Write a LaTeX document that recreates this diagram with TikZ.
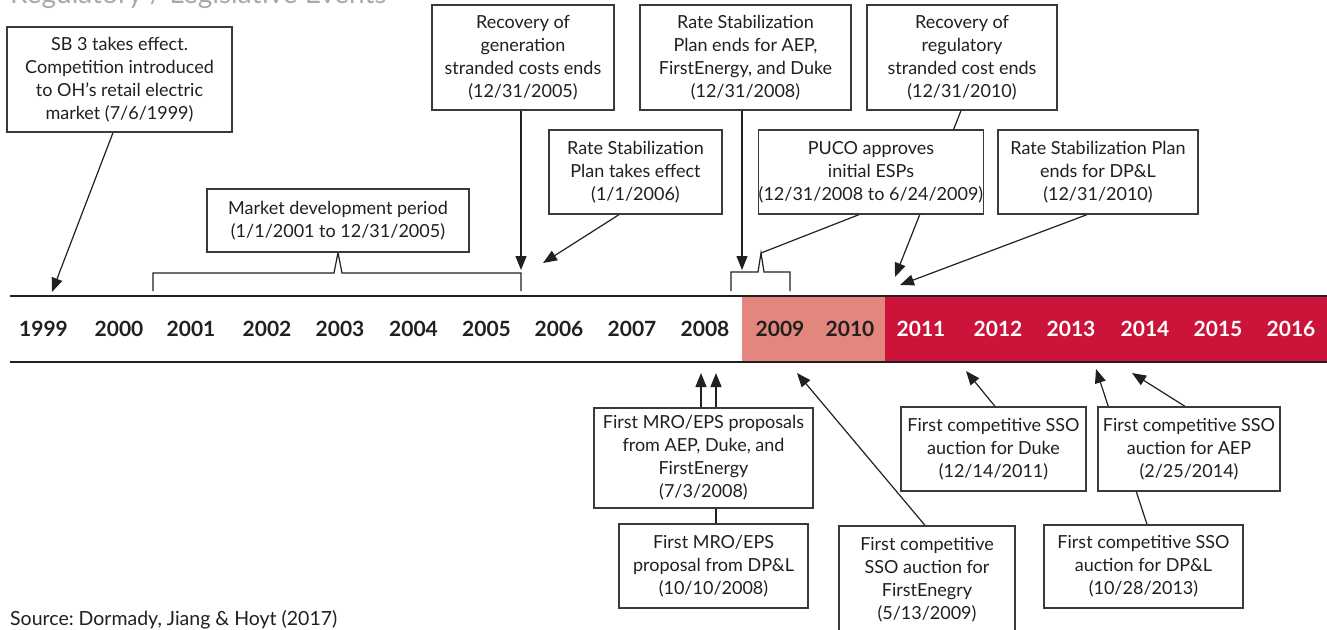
\documentclass[tikz,border=0pt]{standalone}
\usepackage{fontspec}
\setmainfont{Lato}
\usetikzlibrary{arrows.meta}
\pgfdeclarelayer{bg}
\pgfsetlayers{bg,main}
\definecolor{lred}{HTML}{E3877E}
\definecolor{dred}{HTML}{CC1339}
\definecolor{ink}{HTML}{231F20}
\definecolor{boxline}{HTML}{3A3A3A}
\definecolor{titlegray}{HTML}{A7A9AC}
\frenchspacing
\begin{document}
\begin{tikzpicture}[x=1pt,y=-1pt,
  evbox/.style={draw=boxline, line width=1.3pt, fill=white, align=center, inner sep=0pt,
    font=\fontsize{18}{23}\selectfont, text=ink},
  arr/.style={draw=ink, line width=1.2pt, -{Triangle[length=14pt,width=11pt]}},
  lnk/.style={draw=ink, line width=1.2pt},
  yr/.style={font=\bfseries\fontsize{21}{21}\selectfont, anchor=base},
  tl/.style={draw=ink, line width=2.5pt},
]
\useasboundingbox (0,0) rectangle (1327,629);

% title and source
\node[anchor=base west, inner sep=0pt, font=\fontsize{28}{28}\selectfont, text=titlegray] (title) at (10,4) {Regulatory / Legislative Events};
\node[anchor=base west, inner sep=0pt, font=\fontsize{19.5}{19.5}\selectfont, text=ink] (src) at (10,625) {Source: Dormady, Jiang \& Hoyt (2017)};

% timeline band
\fill[lred] (742,297) rectangle (885,361);
\fill[dred] (885,297) rectangle (1327,361);
\draw[tl] (10,296) -- (1327,296);
\draw[tl] (10,362) -- (1327,362);

% years
\node[yr, text=ink] (y1999) at (43.5,336) {1999};
\node[yr, text=ink] (y2000) at (119,336) {2000};
\node[yr, text=ink] (y2001) at (191,336) {2001};
\node[yr, text=ink] (y2002) at (267,336) {2002};
\node[yr, text=ink] (y2003) at (340,336) {2003};
\node[yr, text=ink] (y2004) at (413.5,336) {2004};
\node[yr, text=ink] (y2005) at (486.5,336) {2005};
\node[yr, text=ink] (y2006) at (559,336) {2006};
\node[yr, text=ink] (y2007) at (632,336) {2007};
\node[yr, text=ink] (y2008) at (705,336) {2008};
\node[yr, text=ink] (y2009) at (780,336) {2009};
\node[yr, text=ink] (y2010) at (850,336) {2010};
\node[yr, text=white] (y2011) at (921,336) {2011};
\node[yr, text=white] (y2012) at (998,336) {2012};
\node[yr, text=white] (y2013) at (1071,336) {2013};
\node[yr, text=white] (y2014) at (1145,336) {2014};
\node[yr, text=white] (y2015) at (1218,336) {2015};
\node[yr, text=white] (y2016) at (1291,336) {2016};

% upper boxes
\node[evbox, minimum width=225pt, minimum height=105pt] (sb3) at (119.5,79.5)
  {SB 3 takes effect.\\Competition introduced\\to OH’s retail electric\\market (7/6/1999)};
\node[evbox, minimum width=262pt, minimum height=63pt] (market) at (338,220.5)
  {Market development period\\(1/1/2001 to 12/31/2005)};
\node[evbox, minimum width=182pt, minimum height=105pt] (recgen) at (523,57.5)
  {Recovery of\\generation\\stranded costs ends\\(12/31/2005)};
\node[evbox, minimum width=173pt, minimum height=84pt] (rsp) at (635.5,172)
  {Rate Stabilization\\Plan takes effect\\(1/1/2006)};
\node[evbox, minimum width=211pt, minimum height=105pt] (rspend) at (745.5,57.5)
  {Rate Stabilization\\Plan ends for AEP,\\FirstEnergy, and Duke\\(12/31/2008)};
\node[evbox, minimum width=220pt, minimum height=84pt] (puco) at (871,172)
  {PUCO approves\\initial ESPs\\(12/31/2008 to 6/24/2009)};
\node[evbox, minimum width=190pt, minimum height=105pt] (recreg) at (962,57.5)
  {Recovery of\\regulatory\\stranded cost ends\\(12/31/2010)};
\node[evbox, minimum width=200pt, minimum height=84pt] (rspdpl) at (1098,172)
  {Rate Stabilization Plan\\ends for DP\&L\\(12/31/2010)};

% lower boxes
\node[evbox, minimum width=219pt, minimum height=100pt] (mroa) at (703.5,458)
  {First MRO/EPS proposals\\from AEP, Duke, and\\FirstEnergy\\(7/3/2008)};
\node[evbox, minimum width=189pt, minimum height=84pt] (mrob) at (713.5,566)
  {First MRO/EPS\\proposal from DP\&L\\(10/10/2008)};
\node[evbox, minimum width=176pt, minimum height=108pt] (ssofe) at (927,580)
  {First competitive\\SSO auction for\\FirstEnegry\\(5/13/2009)};
\node[evbox, minimum width=185pt, minimum height=84pt] (ssoduke) at (993.5,449)
  {First competitive SSO\\auction for Duke\\(12/14/2011)};
\node[evbox, minimum width=182pt, minimum height=84pt] (ssoaep) at (1189,449)
  {First competitive SSO\\auction for AEP\\(2/25/2014)};
\node[evbox, minimum width=199pt, minimum height=83pt] (ssodpl) at (1143.5,566.5)
  {First competitive SSO\\auction for DP\&L\\(10/28/2013)};

% target points on the timeline
\coordinate (t99) at (52,292);
\coordinate (tgen) at (521,270);
\coordinate (trsp) at (543,263);
\coordinate (trse) at (742,270);
\coordinate (treg) at (895,277);
\coordinate (tdpl) at (900,285);
\coordinate (notch) at (761,253);
\coordinate (tmroa) at (701,373);
\coordinate (tmrob) at (716,373);
\coordinate (tfe) at (797,373);
\coordinate (tduke) at (966,371);
\coordinate (taep) at (1132,373);
\coordinate (tsdpl) at (1096,369);

\begin{pgfonlayer}{bg}
  \draw[arr] ([xshift=-6.5pt]sb3.south) -- (t99);
  \draw[arr] ([xshift=-2pt]recgen.south) -- (tgen);
  \draw[arr] ([xshift=-16.5pt]rsp.south) -- (trsp);
  \draw[arr] ([xshift=-3.5pt]rspend.south) -- (trse);
  \draw[arr] ([xshift=-1pt]recreg.south) -- (treg);
  \draw[arr] ([xshift=-11pt]rspdpl.south) -- (tdpl);
  \draw[lnk] (153,291) |- (334,273) -- (market.south) -- (342,273) -| (521,291);
  \draw[lnk] (731,291) |- (758,272) -- (notch) -- (764,272) -| (790,291);
  \draw[lnk] (notch) -- ([xshift=-12pt]puco.south);
  \draw[arr] ([xshift=-2.5pt]mroa.north) -- (tmroa);
  \draw[arr] ([xshift=2.5pt]mrob.north) -- (tmrob);
  \draw[arr] ([xshift=-2pt]ssofe.north) -- (tfe);
  \draw[arr] ([xshift=1.5pt]ssoduke.north) -- (tduke);
  \draw[arr] ([xshift=-4pt]ssoaep.north) -- (taep);
  \draw[arr] ([xshift=3.5pt]ssodpl.north) -- (tsdpl);
\end{pgfonlayer}
\end{tikzpicture}
\end{document}
